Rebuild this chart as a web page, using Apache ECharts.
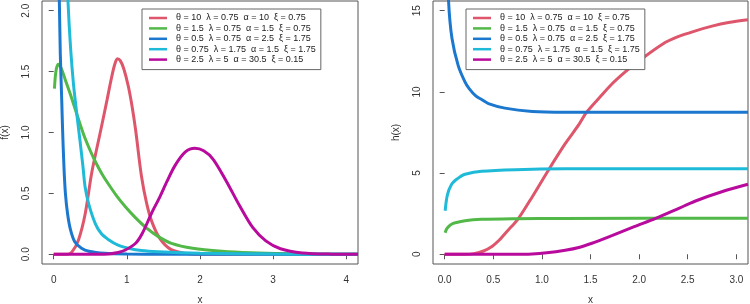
<!DOCTYPE html>
<html>
<head>
<meta charset="utf-8">
<script src="https://cdn.jsdelivr.net/npm/echarts@6/dist/echarts.min.js"></script>
<style>
  html, body { margin: 0; padding: 0; background: #fff; }
  #chart { width: 750px; height: 304px; }
</style>
</head>
<body>
<div id="chart"></div>
<script>
// legend labels and colours
var names = [
  'θ = 10  λ = 0.75  α = 10  ξ = 0.75',
  'θ = 1.5  λ = 0.75  α = 1.5  ξ = 0.75',
  'θ = 0.5  λ = 0.75  α = 2.5  ξ = 1.75',
  'θ = 0.75  λ = 1.75  α = 1.5  ξ = 1.75',
  'θ = 2.5  λ = 5  α = 30.5  ξ = 0.15'
];
var colors = ['#DE566B', '#52B948', '#1B78CE', '#1FBAD8', '#B80A9C'];

// tick labels
var fxTicks = [0, 1, 2, 3, 4];
var fyTicks = [0, 0.5, 1, 1.5, 2];
var hxTicks = [0, 0.5, 1, 1.5, 2, 2.5, 3];
var hyTicks = [0, 5, 10, 15];

// f(x) curves
var fRed = [[0,0],[0.18,0],[0.25,0.02],[0.34,0.12],[0.43,0.33],[0.52,0.67],[0.64,1.01],[0.73,1.27],[0.78,1.42],[0.83,1.55],[0.87,1.605],[0.91,1.59],[0.96,1.52],[1.02,1.38],[1.07,1.22],[1.12,1.02],[1.2,0.64],[1.27,0.42],[1.34,0.27],[1.45,0.13],[1.6,0.04],[1.8,0.006],[2,0],[4.16,0]];
var fGreen = [[0.01,1.36],[0.03,1.5],[0.06,1.56],[0.1,1.53],[0.16,1.43],[0.23,1.31],[0.3,1.18],[0.36,1.07],[0.43,0.95],[0.5,0.85],[0.57,0.76],[0.66,0.66],[0.75,0.575],[0.86,0.48],[0.98,0.39],[1.11,0.305],[1.25,0.225],[1.43,0.145],[1.61,0.09],[1.9,0.05],[2.3,0.025],[2.7,0.012],[3.2,0.004],[3.6,0.001],[4.16,0]];
var fBlue = [[0.04,3.2],[0.06,2.5],[0.077,2.08],[0.09,1.65],[0.11,1.26],[0.12,1.05],[0.14,0.72],[0.16,0.5],[0.19,0.33],[0.23,0.2],[0.29,0.1],[0.38,0.05],[0.48,0.025],[0.7,0.008],[1,0.002],[1.5,0],[4.16,0]];
var fCyan = [[0.14,3],[0.17,2.5],[0.195,2.08],[0.23,1.7],[0.27,1.4],[0.32,1.13],[0.36,0.93],[0.4,0.72],[0.43,0.55],[0.48,0.41],[0.57,0.25],[0.65,0.17],[0.75,0.12],[0.88,0.075],[1.02,0.05],[1.2,0.03],[1.43,0.02],[2,0.008],[3,0.002],[4.16,0]];
var fMagenta = [[0,0],[0.6,0],[0.75,0.003],[0.88,0.015],[0.98,0.035],[1.12,0.09],[1.21,0.17],[1.34,0.34],[1.45,0.47],[1.55,0.6],[1.66,0.73],[1.8,0.84],[1.93,0.87],[2.05,0.85],[2.18,0.78],[2.36,0.6],[2.54,0.4],[2.72,0.22],[2.9,0.11],[3.1,0.045],[3.4,0.01],[3.8,0.001],[4.16,0]];

// h(x) curves
var hRed = [[0,0],[0.2,0],[0.3,0.04],[0.4,0.2],[0.49,0.5],[0.56,0.86],[0.62,1.27],[0.69,1.72],[0.76,2.21],[0.9,3.53],[1.07,5.21],[1.24,6.81],[1.38,7.98],[1.46,8.75],[1.6,9.7],[1.72,10.49],[1.86,11.25],[2,11.92],[2.24,12.94],[2.4,13.4],[2.58,13.76],[2.75,14.05],[2.92,14.27],[3.12,14.44]];
var hGreen = [[0.005,1.33],[0.02,1.55],[0.04,1.7],[0.07,1.85],[0.11,1.94],[0.21,2.07],[0.38,2.15],[0.73,2.19],[1.2,2.21],[3.12,2.22]];
var hBlue = [[0.02,20],[0.04,15.6],[0.075,13.3],[0.14,11.6],[0.21,10.6],[0.25,10.22],[0.32,9.75],[0.38,9.53],[0.45,9.28],[0.62,9],[0.9,8.8],[1.24,8.75],[3.12,8.74]];
var hCyan = [[0.005,2.68],[0.015,3.2],[0.024,3.54],[0.04,3.9],[0.058,4.15],[0.08,4.38],[0.11,4.56],[0.16,4.78],[0.21,4.93],[0.38,5.11],[0.73,5.21],[1.24,5.26],[3.12,5.27]];
var hMagenta = [[0,0],[0.7,0],[0.9,0.02],[1.05,0.09],[1.24,0.25],[1.38,0.42],[1.515,0.68],[1.72,1.15],[1.95,1.7],[2.17,2.21],[2.38,2.75],[2.58,3.28],[2.85,3.85],[3.12,4.31]];

var fData = [fRed, fGreen, fBlue, fCyan, fMagenta];
var hData = [hRed, hGreen, hBlue, hCyan, hMagenta];

var font = 'Liberation Sans, Arial, sans-serif';
var axisGray = '#555';

function xAxis(idx, min, max, ticks, fmt) {
  return {
    type: 'value', gridIndex: idx, min: min, max: max,
    name: 'x', nameLocation: 'middle', nameGap: 31,
    nameTextStyle: { fontFamily: font, fontSize: 10, color: '#333' },
    axisLine: { show: false },
    splitLine: { show: false },
    axisTick: { show: true, length: 5, customValues: ticks, lineStyle: { color: axisGray } },
    axisLabel: { customValues: ticks, margin: 11, fontFamily: font, fontSize: 10, color: '#333', formatter: fmt }
  };
}
function yAxis(idx, min, max, ticks, fmt, title, margin) {
  return {
    type: 'value', gridIndex: idx, min: min, max: max,
    name: title, nameLocation: 'middle', nameGap: 32, nameRotate: 90,
    nameTextStyle: { fontFamily: font, fontSize: 10, color: '#333' },
    axisLine: { show: false },
    splitLine: { show: false },
    axisTick: { show: true, length: 5, customValues: ticks, lineStyle: { color: axisGray } },
    axisLabel: { customValues: ticks, rotate: 90, margin: margin, fontFamily: font, fontSize: 10, color: '#333', formatter: fmt }
  };
}
function legend(left) {
  return {
    orient: 'vertical', left: left, top: 9,
    data: names,
    icon: 'rect', itemWidth: 18, itemHeight: 2.5, itemGap: 0.4,
    padding: [4, 5, 5, 7],
    borderColor: '#666', borderWidth: 1, backgroundColor: '#fff',
    selectedMode: false,
    textStyle: { fontFamily: font, fontSize: 9, color: '#222', lineHeight: 10, padding: [0, 0, 0, 4] }
  };
}

var series = [];
names.forEach(function (n, i) {
  series.push({ name: n, type: 'line', xAxisIndex: 0, yAxisIndex: 0, data: fData[i],
    showSymbol: false, smooth: 0.3, color: colors[i],
    lineStyle: { width: 3, color: colors[i] }, z: 2 + i, animation: false });
  series.push({ name: n, type: 'line', xAxisIndex: 1, yAxisIndex: 1, data: hData[i],
    showSymbol: false, smooth: 0.3, color: colors[i],
    lineStyle: { width: 3, color: colors[i] }, z: 2 + i, animation: false });
});

var myChart = echarts.init(document.getElementById('chart'));
var option = {
  backgroundColor: '#fff',
  animation: false,
  grid: [
    { left: 42, top: 1, width: 316, height: 263, show: true, borderColor: axisGray, borderWidth: 1, outerBoundsMode: 'none' },
    { left: 433, top: 1, width: 315, height: 263, show: true, borderColor: axisGray, borderWidth: 1, outerBoundsMode: 'none' }
  ],
  xAxis: [
    xAxis(0, -0.16, 4.16, fxTicks, function (v) { return String(v); }),
    xAxis(1, -0.12, 3.12, hxTicks, function (v) { return v.toFixed(1); })
  ],
  yAxis: [
    yAxis(0, -0.08, 2.08, fyTicks, function (v) { return v.toFixed(1); }, 'f(x)', 11),
    yAxis(1, -0.6, 15.6, hyTicks, function (v) { return String(v); }, 'h(x)', 11)
  ],
  legend: [legend(142), legend(466)],
  series: series
};
myChart.setOption(option);
</script>
</body>
</html>
